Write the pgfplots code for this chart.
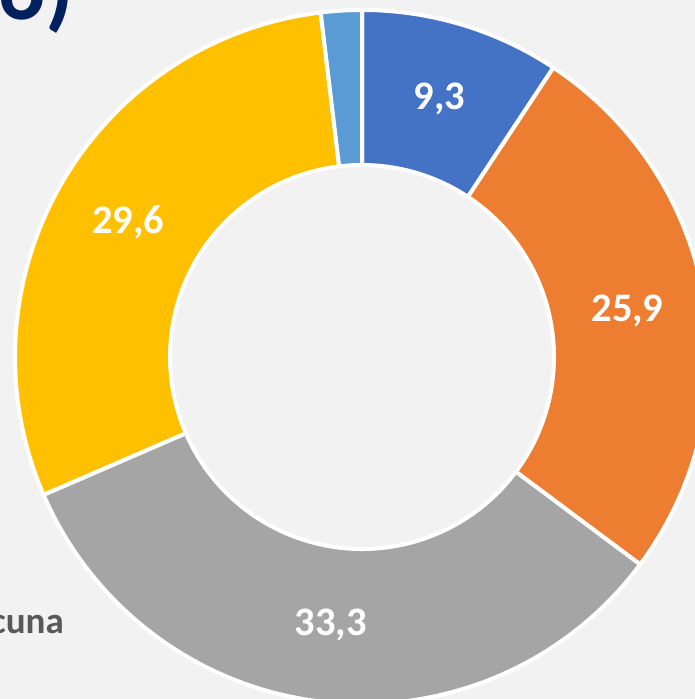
\documentclass[border=0pt]{standalone}
\usepackage{pgfplots}
\pgfplotsset{compat=1.18}
\usepackage{pgfplotstable}
\usepackage{fontspec}
\setmainfont{Carlito}
\definecolor{bgc}{HTML}{F2F2F2}
\definecolor{cA}{HTML}{4472C4}
\definecolor{cB}{HTML}{ED7D31}
\definecolor{cC}{HTML}{A5A5A5}
\definecolor{cD}{HTML}{FFC000}
\definecolor{cE}{HTML}{5B9BD5}
\definecolor{navy}{HTML}{002060}
\definecolor{txtgray}{HTML}{595959}
\pgfplotstableread{
v col lab
9.3 cA 9,3
25.9 cB 25,9
33.3 cC 33,3
29.6 cD 29,6
1.9 cE 1,9
}\data
\begin{document}
\begin{tikzpicture}
\gdef\acc{0}
\pgfplotsforeachungrouped \i in {0,...,4}{%
  \pgfplotstablegetelem{\i}{v}\of\data
  \pgfmathsetmacro\s{90-3.6*\acc}%
  \pgfmathsetmacro\e{\s-3.6*\pgfplotsretval}%
  \pgfmathsetmacro\m{(\s+\e)/2}%
  \pgfmathsetmacro\newacc{\acc+\pgfplotsretval}%
  \xdef\acc{\newacc}%
  \expandafter\xdef\csname st\i\endcsname{\s}%
  \expandafter\xdef\csname en\i\endcsname{\e}%
  \expandafter\xdef\csname mid\i\endcsname{\m}%
  \pgfplotstablegetelem{\i}{col}\of\data
  \expandafter\xdef\csname col\i\endcsname{\pgfplotsretval}%
  \pgfplotstablegetelem{\i}{lab}\of\data
  \expandafter\xdef\csname lab\i\endcsname{\pgfplotsretval}%
}
\begin{axis}[scale only axis, width=695pt, height=699pt,
  xmin=0, xmax=695, ymin=0, ymax=699, hide axis, clip=true]
\fill[bgc] (axis cs:0,0) rectangle (axis cs:695,699);
\coordinate (c) at (axis cs:362,342);
\pgfplotsforeachungrouped \i in {0,...,4}{%
  \edef\temp{\noexpand\filldraw[fill=\csname col\i\endcsname, draw=white, line width=4pt, line join=round]
    ([shift={(\csname st\i\endcsname:347pt)}]c) arc[start angle=\csname st\i\endcsname, end angle=\csname en\i\endcsname, radius=347pt]
    -- ([shift={(\csname en\i\endcsname:192pt)}]c) arc[start angle=\csname en\i\endcsname, end angle=\csname st\i\endcsname, radius=192pt] -- cycle;}%
  \temp
}
\pgfplotsforeachungrouped \i in {0,...,3}{%
  \edef\temp{\noexpand\node[text=white, font=\noexpand\fontsize{40.5}{42}\noexpand\selectfont\noexpand\bfseries]
    at ([shift={(\csname mid\i\endcsname:269.5pt)}]c) {\csname lab\i\endcsname};}%
  \temp
}
\node[anchor=base east, text=navy, font=\fontsize{92}{94}\selectfont\bfseries, inner sep=0pt] at (axis cs:74,679) {6)};
\node[anchor=base east, text=txtgray, font=\fontsize{37}{39}\selectfont\bfseries, inner sep=0pt] at (axis cs:64,65) {Vacuna};
\end{axis}
\pgfresetboundingbox
\useasboundingbox (current axis.south west) rectangle (current axis.north east);
\end{tikzpicture}
\end{document}
